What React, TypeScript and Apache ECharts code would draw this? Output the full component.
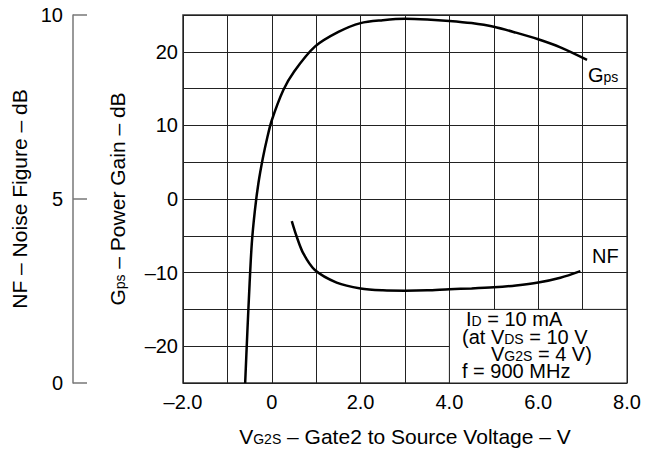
import React, { useEffect, useRef } from "react";
import * as echarts from "echarts";

// Gps – Power Gain (dB) vs VG2S (V)
const gpsVoltage = [-0.6, -0.55, -0.5, -0.45, -0.38, -0.3, -0.2, -0.1, 0, 0.26, 0.5, 0.97, 1.5, 2.0, 2.5, 3.0, 3.5, 4.0, 4.5, 5.0, 5.5, 6.0, 6.5, 7.1];
const gpsValues = [-25, -18, -11.5, -6, -1.5, 2.2, 5.6, 8.4, 10.7, 14.8, 17.3, 20.7, 22.7, 23.9, 24.3, 24.5, 24.4, 24.2, 23.9, 23.4, 22.6, 21.7, 20.6, 18.9];

// NF – Noise Figure (dB) vs VG2S (V)
const nfVoltage = [0.45, 0.56, 0.71, 0.97, 1.46, 2.0, 2.5, 3.0, 3.5, 4.0, 4.5, 5.0, 5.5, 6.0, 6.5, 6.95];
const nfValues = [4.4, 3.98, 3.52, 3.07, 2.73, 2.57, 2.52, 2.51, 2.52, 2.55, 2.57, 2.6, 2.65, 2.73, 2.86, 3.04];

// Axis ranges / ticks
const xRange = [-2, 8];
const gpsRange = [-25, 25];
const nfRange = [0, 10];

// Annotation box (condition text) in data units
const boxFrom = [4, -15];
const boxTo = [8, -25];

const FONT = "Liberation Sans, Arial, Helvetica, sans-serif";

const dash = (v: number, digits: number) => {
  const s = digits > 0 ? Math.abs(v).toFixed(digits) : String(Math.abs(v));
  return v < 0 ? "\u2013" + s : s;
};

export default function App() {
  const ref = useRef<HTMLDivElement>(null);

  useEffect(() => {
    if (!ref.current) return;
    const chart = echarts.init(ref.current, null, { renderer: "svg" });

    const big = { fontSize: 21, fontFamily: FONT, color: "#000", verticalAlign: "bottom" as const };
    const small = { fontSize: 14, fontFamily: FONT, color: "#000", verticalAlign: "bottom" as const, padding: [0, 0, 1, 0] };
    const gBig = { fontSize: 20, lineHeight: 17, fontFamily: FONT, fill: "#000", verticalAlign: "bottom" as const };
    const gSmall = { fontSize: 14, lineHeight: 16, fontFamily: FONT, fill: "#000", verticalAlign: "bottom" as const, padding: [0, 0, 1, 0] };

    const gpsData = gpsVoltage.map((v, i) => [v, gpsValues[i]]);
    const nfData = nfVoltage.map((v, i) => [v, nfValues[i]]);

    const annot = (x: number, y: number, text: string) => ({
      type: "text",
      x,
      y,
      z: 100,
      style: {
        text,
        rich: { a: gBig, b: gSmall },
        align: "left",
        verticalAlign: "middle",
        fill: "#000",
      },
    });

    chart.setOption({
      animation: false,
      backgroundColor: "#fff",
      grid: {
        left: 183,
        right: 22,
        top: 15,
        bottom: 71,
        show: true,
        borderColor: "#333",
        borderWidth: 1.5,
        backgroundColor: "transparent",
      },
      xAxis: [
        {
          type: "value",
          min: xRange[0],
          max: xRange[1],
          interval: 1,
          axisLine: { show: false },
          axisTick: { show: false },
          splitLine: { show: true, lineStyle: { color: "#222", width: 1 } },
          axisLabel: {
            fontSize: 20,
            fontFamily: FONT,
            color: "#000",
            margin: 9,
            showMinLabel: true,
            showMaxLabel: true,
            formatter: (v: number) => {
              if (Math.abs(Math.round(v) % 2) === 1) return "";
              return v === 0 ? "0" : dash(v, 1);
            },
          },
          name: "{a|V}{b|G2S}{a| \u2013 Gate2 to Source Voltage \u2013 V}",
          nameLocation: "middle",
          nameGap: 43,
          nameTextStyle: { rich: { a: big, b: small } },
        },
      ],
      yAxis: [
        {
          type: "value",
          min: gpsRange[0],
          max: gpsRange[1],
          interval: 5,
          position: "left",
          axisLine: { show: false },
          axisTick: { show: false },
          splitLine: { show: true, lineStyle: { color: "#222", width: 1 } },
          axisLabel: {
            fontSize: 20,
            fontFamily: FONT,
            color: "#000",
            margin: 5,
            formatter: (v: number) => (Math.round(v) % 10 === 0 ? dash(v, 0) : ""),
          },
          name: "{a|G}{b|ps}{a| \u2013 Power Gain \u2013 dB}",
          nameLocation: "middle",
          nameRotate: 90,
          nameGap: 55,
          nameTextStyle: { rich: { a: big, b: small } },
        },
        {
          type: "value",
          min: nfRange[0],
          max: nfRange[1],
          interval: 5,
          position: "left",
          offset: 110,
          axisLine: { show: true, lineStyle: { color: "#777", width: 1.5 } },
          axisTick: { show: true, inside: true, length: 14, lineStyle: { color: "#777", width: 1.5 } },
          splitLine: { show: false },
          axisLabel: { fontSize: 20, fontFamily: FONT, color: "#000", margin: 10 },
          name: "NF \u2013 Noise Figure \u2013 dB",
          nameLocation: "middle",
          nameRotate: 90,
          nameGap: 40,
          nameTextStyle: { fontSize: 21, fontFamily: FONT, color: "#000" },
        },
      ],
      series: [
        {
          name: "Gps",
          type: "line",
          xAxisIndex: 0,
          yAxisIndex: 0,
          data: gpsData,
          smooth: 0.3,
          showSymbol: false,
          lineStyle: { color: "#000", width: 2.5 },
          z: 5,
          markArea: {
            silent: true,
            itemStyle: { color: "#fff", borderColor: "#222", borderWidth: 1 },
            data: [[{ coord: boxFrom }, { coord: boxTo }]],
          },
        },
        {
          name: "NF",
          type: "line",
          xAxisIndex: 0,
          yAxisIndex: 1,
          data: nfData,
          smooth: 0.3,
          showSymbol: false,
          lineStyle: { color: "#000", width: 2.5 },
          z: 5,
        },
      ],
      graphic: [
        annot(588, 76, "{a|G}{b|ps}"),
        annot(592, 257, "{a|NF}"),
        annot(466, 320, "{a|I}{b|D}{a| = 10 mA}"),
        annot(462, 338, "{a|(at V}{b|DS}{a| = 10 V}"),
        annot(491, 355, "{a|V}{b|G2S}{a| = 4 V)}"),
        annot(462, 372, "{a|f = 900 MHz}"),
      ],
    });

    return () => chart.dispose();
  }, []);

  return (
    <div
      ref={ref}
      style={{ position: "absolute", left: 0, top: 0, width: 649, height: 454 }}
    />
  );
}
